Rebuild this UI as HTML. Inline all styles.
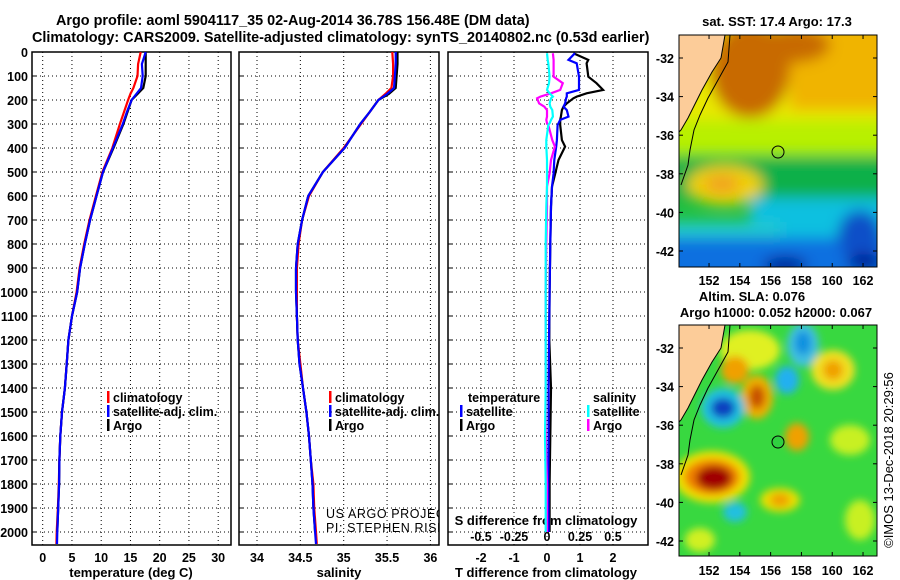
<!DOCTYPE html>
<html><head><meta charset="utf-8"><style>
html,body{margin:0;padding:0;background:#fff}
svg{display:block;font-family:"Liberation Sans",sans-serif}
.b{font-weight:bold;font-size:13px}
.h{font-weight:bold;font-size:14.4px}
.t{font-weight:bold;font-size:12.5px}
</style></head><body>
<svg id="fig" width="900" height="580" viewBox="0 0 900 580" xmlns="http://www.w3.org/2000/svg">
<defs>
<filter id="bl" x="-50%" y="-50%" width="200%" height="200%"><feGaussianBlur stdDeviation="7"/></filter>
<filter id="bl2" x="-50%" y="-50%" width="200%" height="200%"><feGaussianBlur stdDeviation="4"/></filter>
<clipPath id="cm1"><rect x="679" y="35" width="198" height="232"/></clipPath>
<clipPath id="cm2"><rect x="679" y="325" width="198" height="231"/></clipPath>
<clipPath id="cp1"><rect x="32" y="52" width="199" height="493"/></clipPath>
<clipPath id="cp2"><rect x="239" y="52" width="200" height="493"/></clipPath>
<clipPath id="cp3"><rect x="448" y="52" width="200" height="493"/></clipPath>
</defs>
<rect x="0" y="0" width="900" height="580" fill="#fff"/>
<text class="h" x="56" y="25">Argo profile: aoml 5904117_35 02-Aug-2014 36.78S 156.48E (DM data)</text>
<text class="h" x="32" y="42">Climatology: CARS2009. Satellite-adjusted climatology: synTS_20140802.nc (0.53d earlier)</text>

<g id="maps">
<g clip-path="url(#cm1)">
<rect x="679" y="35" width="198" height="232" fill="#20c040"/>
<g filter="url(#bl)">
<rect x="660" y="10" width="240" height="120" fill="#e8e800"/>
<rect x="660" y="120" width="240" height="35" fill="#b8f000"/>
<rect x="790" y="10" width="110" height="100" fill="#f0b400"/>
<ellipse cx="750" cy="70" rx="40" ry="48" fill="#c86a00"/>
<ellipse cx="790" cy="45" rx="40" ry="18" fill="#c86a00"/>
<rect x="660" y="158" width="240" height="40" fill="#10b048"/>
<ellipse cx="725" cy="185" rx="38" ry="20" fill="#f0d000"/>
<ellipse cx="722" cy="184" rx="18" ry="9" fill="#f0a020"/>
<rect x="750" y="198" width="150" height="45" fill="#10c0e0"/>
<rect x="660" y="222" width="120" height="25" fill="#20c8d0"/>
<rect x="660" y="238" width="240" height="45" fill="#1070e0"/>
<ellipse cx="860" cy="235" rx="22" ry="25" fill="#1050c8"/>
<ellipse cx="785" cy="265" rx="22" ry="8" fill="#001090"/>
<ellipse cx="865" cy="262" rx="18" ry="8" fill="#001090"/>
</g>
<polygon points="679,35 725,35 721,58 712,72 702,90 693,108 688,118 681,130 679,132" fill="#fccc99"/>
<polyline points="725,35 721,58 712,72 702,90 693,108 688,118 681,130 679,132" fill="none" stroke="#000" stroke-width="1"/>
<polyline points="730,35 728,62 718,80 708,98 700,115 694,130 690,150 688,165 681,185" fill="none" stroke="#000" stroke-width="1"/>
<circle cx="778" cy="152" r="6" fill="none" stroke="#000"/>
</g>
<rect x="679" y="35" width="198" height="232" fill="none" stroke="#000"/>

<g clip-path="url(#cm2)">
<rect x="679" y="325" width="198" height="231" fill="#38d840"/>
<g filter="url(#bl2)">
<ellipse cx="750" cy="350" rx="30" ry="20" fill="#e0f020"/>
<ellipse cx="735" cy="370" rx="14" ry="14" fill="#f0a000"/>
<ellipse cx="757" cy="397" rx="16" ry="22" fill="#f0b000"/>
<ellipse cx="757" cy="397" rx="8" ry="12" fill="#c85000"/>
<ellipse cx="723" cy="408" rx="22" ry="20" fill="#20c0e0"/>
<ellipse cx="723" cy="408" rx="12" ry="10" fill="#1040c0"/>
<ellipse cx="803" cy="345" rx="16" ry="22" fill="#40c0e0"/>
<ellipse cx="803" cy="343" rx="8" ry="12" fill="#1090e0"/>
<ellipse cx="787" cy="380" rx="12" ry="14" fill="#20b0f0"/>
<ellipse cx="833" cy="370" rx="22" ry="20" fill="#f0e020"/>
<ellipse cx="833" cy="370" rx="10" ry="10" fill="#f0a000"/>
<ellipse cx="797" cy="437" rx="12" ry="14" fill="#f0a000"/>
<ellipse cx="712" cy="477" rx="38" ry="26" fill="#f0e000"/>
<ellipse cx="712" cy="477" rx="28" ry="18" fill="#f08000"/>
<ellipse cx="714" cy="478" rx="18" ry="12" fill="#a00000"/>
<ellipse cx="780" cy="500" rx="20" ry="12" fill="#e8e000"/>
<ellipse cx="780" cy="500" rx="10" ry="7" fill="#f0a000"/>
<ellipse cx="735" cy="512" rx="12" ry="10" fill="#20c0e0"/>
<ellipse cx="850" cy="440" rx="20" ry="15" fill="#c8f020"/>
<ellipse cx="700" cy="540" rx="15" ry="12" fill="#d0f020"/>
<ellipse cx="860" cy="520" rx="15" ry="20" fill="#c8f020"/>
</g>
<polygon points="679,325 725,325 721,348 712,362 702,380 693,398 688,408 681,420 679,422" fill="#fccc99"/>
<polyline points="725,325 721,348 712,362 702,380 693,398 688,408 681,420 679,422" fill="none" stroke="#000"/>
<polyline points="730,325 728,352 718,370 708,388 700,405 694,420 690,440 688,455 681,475" fill="none" stroke="#000"/>
<circle cx="778" cy="442" r="6" fill="#30d040" stroke="#000"/>
</g>
<rect x="679" y="325" width="198" height="231" fill="none" stroke="#000"/>
<text class="b" x="777" y="26" text-anchor="middle">sat. SST: 17.4 Argo: 17.3</text>
<text class="b" x="752" y="301" text-anchor="middle">Altim. SLA: 0.076</text>
<text class="b" x="776" y="317" text-anchor="middle">Argo h1000: 0.052 h2000: 0.067</text>
<text font-size="13" x="0" y="0" transform="translate(893,460) rotate(-90)" text-anchor="middle">©IMOS 13-Dec-2018 20:29:56</text>
</g>
<g id="dyn"></g>
</svg>
<script>
// ---- profile data ----
const depths = [0,50,100,150,175,200,250,300,400,500,600,700,800,900,1000,1100,1200,1300,1400,1500,1600,1700,1800,1900,2000,2050];
const tempArgo = [17.6,17.6,17.6,17.2,16.2,15.2,14.5,13.8,12.1,10.3,9.2,8.1,7.2,6.4,5.9,5.0,4.4,4.1,3.8,3.3,3.0,2.85,2.8,2.65,2.5,null];
const tempClim = [16.75,16.3,16.2,15.5,15.0,14.6,13.9,13.2,11.9,10.2,9.1,8.0,7.1,6.3,5.8,5.0,4.4,4.1,3.8,3.3,3.0,2.85,2.75,2.6,2.4,2.35];
const tempSat = [17.6,16.95,17.1,16.8,16.0,15.2,14.4,13.7,12.0,10.3,9.2,8.1,7.2,6.4,5.9,5.0,4.4,4.1,3.8,3.3,3.0,2.85,2.8,2.65,2.5,2.45];
const salArgo = [35.62,35.62,35.61,35.6,35.52,35.4,35.3,35.19,35.01,34.76,34.59,34.52,34.47,34.45,34.45,34.46,34.47,34.49,34.53,34.57,34.6,34.62,34.64,34.65,34.67,null];
const salClim = [35.56,35.57,35.57,35.55,35.48,35.4,35.3,35.2,35.0,34.76,34.6,34.52,34.48,34.46,34.46,34.46,34.47,34.5,34.53,34.57,34.6,34.62,34.65,34.66,34.68,34.69];
const salSat = [35.6,35.6,35.59,35.58,35.5,35.4,35.3,35.19,35.01,34.76,34.59,34.52,34.47,34.45,34.45,34.46,34.47,34.49,34.53,34.57,34.6,34.62,34.64,34.65,34.67,34.68];
const diffDepths = [5,33,47,103,130,158,172,186,193,214,228,242,269,283,297,304,367,394,450,505,561,644,800,1000,1200,1400,1600,1800,2000];
const tDiffArgo = [0.8,1.25,1.2,1.25,1.5,1.7,1.2,0.9,0.8,0.6,0.5,0.45,0.42,0.4,0.4,0.4,0.45,0.55,0.35,0.25,0.15,0.12,0.1,0.08,0.07,0.12,0.1,0.08,0.08];
const tDiffSat = [0.85,0.65,0.9,0.97,0.97,0.97,0.6,0.6,0.58,0.55,0.5,0.6,0.65,0.4,0.35,0.32,0.3,0.28,0.22,0.2,0.15,0.12,0.1,0.08,0.06,0.05,0.05,0.04,0.05];
const sDiffArgo = [0.045,0.05,0.05,0.05,0.12,0.1,0.03,-0.05,-0.075,-0.06,-0.02,0,0,-0.005,0,0.01,0.04,0.06,0.03,0.02,0,0,-0.005,-0.01,-0.01,-0.01,-0.01,0,0];
const sDiffSat = [0,0.005,0.01,0.02,0.015,0,0.02,0.045,0.03,0.02,0.025,0.04,0.045,0.03,0.02,0.01,-0.005,-0.005,0,0,0,-0.005,-0.01,-0.01,-0.01,-0.01,-0.015,-0.01,-0.01];
const depthTicks = [0,100,200,300,400,500,600,700,800,900,1000,1100,1200,1300,1400,1500,1600,1700,1800,1900,2000];
const tempTicks = [0,5,10,15,20,25,30];
const salTicks = [34,34.5,35,35.5,36];
const tDiffTicks = [-2,-1,0,1,2];
const sDiffTicks = [-0.5,-0.25,0,0.25,0.5];
const sDiffLabels = ["-0.5","-0.25","0","0.25","0.5"];
const lonTicks = [152,154,156,158,160,162];
const latTicks = [-32,-34,-36,-38,-40,-42];

const NS="http://www.w3.org/2000/svg";
const root=document.getElementById('dyn');
function mk(tag,attrs,parent){const e=document.createElementNS(NS,tag);for(const k in attrs)e.setAttribute(k,attrs[k]);(parent||root).appendChild(e);return e;}
const yD = d => 52 + d*0.24;
const xT = v => 42.7 + v*5.85;
const xS = v => 257 + (v-34)*86.7;
const xTD = v => 547 + v*33;
const xSD = v => 547 + v*132;
const panels=[{x:32,w:199,clip:'cp1'},{x:239,w:200,clip:'cp2'},{x:448,w:200,clip:'cp3'}];

panels.forEach((p,i)=>{
  const g=mk('g',{});
  
  
  depthTicks.forEach(d=>{
    const l=mk('line',{x1:p.x,x2:p.x+p.w,y1:yD(d),y2:yD(d),stroke:'#000','stroke-dasharray':'1,3'},g);
    
    
    mk('line',{x1:p.x,x2:p.x+4,y1:yD(d),y2:yD(d),stroke:'#000'},g);
  });
  const r=mk('rect',{x:p.x,y:52,width:p.w,height:493,fill:'none',stroke:'#000','stroke-width':1.5},g);
  
  
});
depthTicks.forEach(d=>{
  const t=mk('text',{x:28,y:yD(d)+5,'text-anchor':'end',class:'t'});
  t.textContent=d;
  
  
});
function vgrid(vals,fx,y0,y1){vals.forEach(v=>{
  const l=mk('line',{x1:fx(v),x2:fx(v),y1:y0,y2:y1,stroke:'#000','stroke-dasharray':'1,3'});
  
  
});}
function xlabels(vals,fx,y,labs){vals.forEach((v,i)=>{
  const t=mk('text',{x:fx(v),y:y,'text-anchor':'middle',class:'t'});
  t.textContent=labs?labs[i]:v;
  
  
});}
vgrid(tempTicks,xT,52,545); vgrid(salTicks,xS,52,545); vgrid(tDiffTicks,xTD,52,545);
xlabels(tempTicks,xT,562); xlabels(salTicks,xS,562); xlabels(tDiffTicks,xTD,562);
xlabels(sDiffTicks,xSD,541,sDiffLabels);
function title(txt,x,y,name){const t=mk('text',{x:x,y:y,'text-anchor':'middle',class:'b'});t.textContent=txt;}
title('temperature (deg C)',131,577,'x-axis-title-temperature');
title('salinity',339,577,'x-axis-title-salinity');
title('T difference from climatology',546,577,'x-axis-title-t-difference');
title('S difference from climatology',546,525,'s-difference-axis-title');

function line(ds,vs,fx,color,clip,name){
  const pts=[];ds.forEach((d,i)=>{if(vs[i]!==null)pts.push(fx(vs[i]).toFixed(1)+','+yD(d).toFixed(1));});
  const pl=mk('polyline',{points:pts.join(' '),fill:'none',stroke:color,'stroke-width':2.2,'clip-path':'url(#'+clip+')'});
  
  
}
line(depths,tempClim,xT,'#f00','cp1','temperature-climatology-line');
line(depths,tempArgo,xT,'#000','cp1','temperature-argo-line');
line(depths,tempSat,xT,'#00f','cp1','temperature-satellite-line');
line(depths,salClim,xS,'#f00','cp2','salinity-climatology-line');
line(depths,salArgo,xS,'#000','cp2','salinity-argo-line');
line(depths,salSat,xS,'#00f','cp2','salinity-satellite-line');
line(diffDepths,tDiffArgo,xTD,'#000','cp3','t-diff-argo-line');
line(diffDepths,tDiffSat,xTD,'#00f','cp3','t-diff-satellite-line');
line(diffDepths,sDiffArgo,xSD,'#f0f','cp3','s-diff-argo-line');
line(diffDepths,sDiffSat,xSD,'#0ff','cp3','s-diff-satellite-line');

function legend(x,y,color,txt){
  const g=mk('g',{});
  
  
  if(color)mk('rect',{x:x,y:y-11,width:2.5,height:12,fill:color},g);
  const t=mk('text',{x:x+6,y:y,class:'t'},g);t.textContent=txt;
}
legend(107,402,'#f00','climatology');legend(107,416,'#00f','satellite-adj. clim.');legend(107,430,'#000','Argo');
legend(329,402,'#f00','climatology');legend(329,416,'#00f','satellite-adj. clim.');legend(329,430,'#000','Argo');
legend(462,402,null,'temperature');legend(460,416,'#00f','satellite');legend(460,430,'#000','Argo');
legend(587,402,null,'salinity');legend(587,416,'#0ff','satellite');legend(587,430,'#f0f','Argo');

const pi=mk('g',{'clip-path':'url(#cp2)'});


const c1=mk('text',{x:326,y:518,'font-size':12.5,'letter-spacing':'0.6'},pi);c1.textContent='US ARGO PROJECT';
const c2=mk('text',{x:326,y:532,'font-size':12.5,'letter-spacing':'0.6'},pi);c2.textContent='PI: STEPHEN RISER';

// map axes
const xLon=v=>679+(v-150.05)*15.4;
[[35,267,58,19.3,280],[325,556,348,19.3,570]].forEach((m)=>{
  lonTicks.forEach(v=>{
    mk('line',{x1:xLon(v),x2:xLon(v),y1:m[0],y2:m[0]+4,stroke:'#000'});
    mk('line',{x1:xLon(v),x2:xLon(v),y1:m[1],y2:m[1]-4,stroke:'#000'});
    const t=mk('text',{x:xLon(v),y:m[4]+5,'text-anchor':'middle',class:'t'});t.textContent=v;
    
    
  });
  latTicks.forEach(v=>{
    const y=m[2]+(-32-v)*m[3];
    mk('line',{x1:679,x2:683,y1:y,y2:y,stroke:'#000'});
    mk('line',{x1:877,x2:873,y1:y,y2:y,stroke:'#000'});
    const t=mk('text',{x:674,y:y+5,'text-anchor':'end',class:'t'});t.textContent=v;
    
    
  });
});
</script>
</body></html>
